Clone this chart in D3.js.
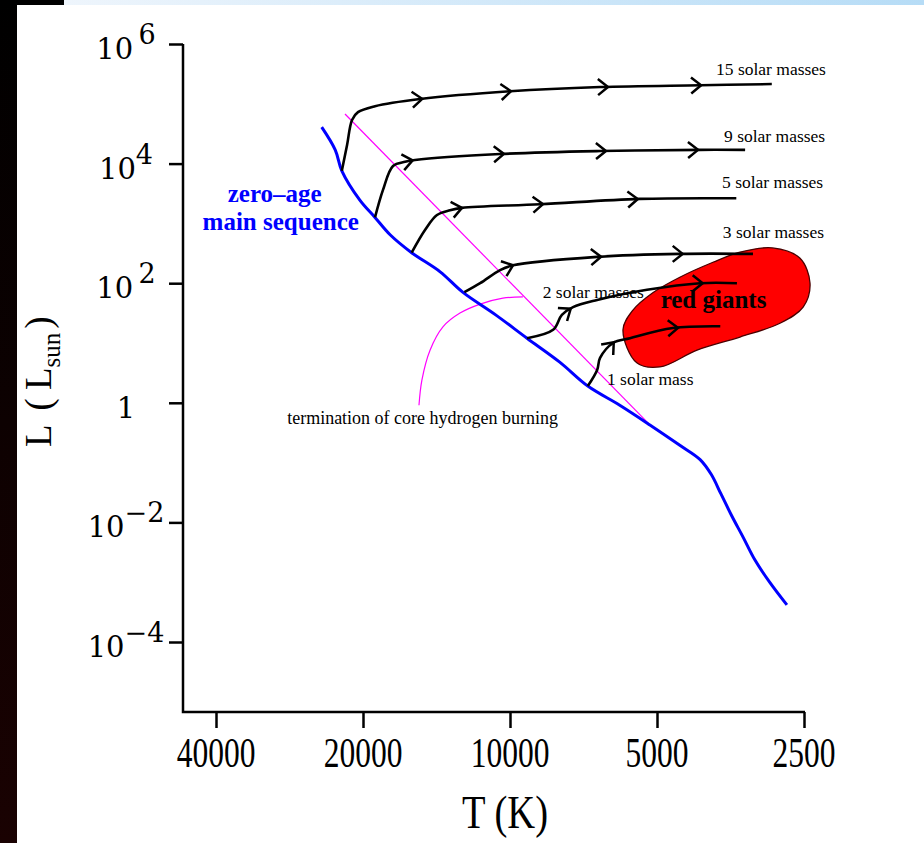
<!DOCTYPE html>
<html>
<head>
<meta charset="utf-8">
<script src="https://cdn.jsdelivr.net/npm/d3@7"></script>
<style>
  body { margin: 0; background: #fff; }
  svg { display: block; }
</style>
</head>
<body>
<div id="here"></div>
<script>
var w = 924, h = 843;

// axis ticks
var tempTicks = [40000, 20000, 10000, 5000, 2500];
var lumExps = [6, 4, 2, 0, -2, -4];

// zero-age main sequence (T in K, log L in L_sun)
var msT = [24300, 22800, 22100, 20300, 18900, 17600, 15900, 13900, 12500, 10700, 9230, 7910, 6930, 5960, 5170, 4490, 4080, 3870, 3700, 3520, 3330, 3150, 2940, 2710];
var msLogL = [4.61, 4.23, 3.88, 3.39, 3.10, 2.81, 2.51, 2.19, 1.85, 1.47, 1.08, 0.68, 0.28, -0.04, -0.37, -0.71, -0.95, -1.20, -1.52, -1.88, -2.25, -2.63, -3.00, -3.38];

// evolutionary tracks
var track15T = [22100, 21560, 21060, 20480, 18900, 15280, 10000, 6540, 4080, 2910];
var track15L = [3.88, 4.31, 4.73, 4.86, 4.96, 5.08, 5.21, 5.28, 5.31, 5.33];
var track9T = [18900, 18200, 17360, 16400, 15650, 10480, 6540, 4080, 3300];
var track9L = [3.10, 3.56, 3.96, 4.03, 4.06, 4.16, 4.21, 4.23, 4.23];
var track5T = [15900, 14930, 14110, 13270, 12540, 8680, 5420, 3440];
var track5L = [2.51, 2.89, 3.14, 3.22, 3.26, 3.32, 3.41, 3.42];
var track3T = [12400, 11510, 10480, 9860, 6630, 4490, 3180];
var track3L = [1.85, 2.00, 2.22, 2.30, 2.44, 2.49, 2.49];
var track2T = [9230, 8160, 7830, 7430, 6630, 5240, 4080, 3430];
var track2L = [1.08, 1.22, 1.47, 1.60, 1.72, 1.89, 2.00, 2.00];
var track1T = [6930, 6630, 6540, 6150, 5680, 4640, 3710];
var track1L = [0.28, 0.55, 0.75, 1.00, 1.08, 1.25, 1.28];

// arrow positions along each track (T)
var arrows15 = [15200, 10000, 6330, 4080];
var arrows9 = [15900, 10340, 6390, 4140];
var arrows5 = [12600, 8600, 5500];
var arrows3 = [9900, 6540, 4450];
var arrows2 = [7540, 4050];
var arrows1 = [6150, 4550];

var massNames = ["15 solar masses", "9 solar masses", "5 solar masses", "3 solar masses", "2 solar masses", "1 solar mass"];
var massLabelT = [3785, 3645, 3680, 3665, 8570, 6330];
var massLabelL = [5.48, 4.36, 3.59, 2.76, 1.75, 0.30];

// end of core hydrogen burning line and pointer arc
var termT = [21770, 5170];
var termL = [4.83, -0.37];
var arcT = [15360, 15150, 14580, 13720, 12660, 11510, 10340, 9410];
var arcL = [-0.04, 0.38, 0.88, 1.27, 1.50, 1.65, 1.75, 1.77];

// red giant region outline
var giantT = [5870, 5600, 5100, 4490, 3840, 3380, 2900, 2550, 2430, 2510, 2800, 3380, 4140, 4930, 5500];
var giantL = [1.22, 1.55, 1.84, 2.10, 2.35, 2.52, 2.59, 2.42, 2.00, 1.60, 1.33, 1.10, 0.88, 0.60, 0.67];

var x = d3.scaleLog().base(2).domain([40000, 2500]).range([216, 804]);
var y = d3.scaleLog().domain([1e-4, 1e6]).range([642, 44]);

var svg = d3.select('#here').append("svg")
  .attr("width", w)
  .attr("height", h);

// page decoration (slide frame)
var defs = svg.append("defs");
var gr = defs.append("linearGradient").attr("id", "topband");
gr.append("stop").attr("offset", "0%").attr("stop-color", "#eef5fc");
gr.append("stop").attr("offset", "100%").attr("stop-color", "#b6dcf6");
var gl = defs.append("linearGradient").attr("id", "leftband").attr("x1", 0).attr("x2", 0).attr("y1", 0).attr("y2", 1);
gl.append("stop").attr("offset", "0%").attr("stop-color", "#000");
gl.append("stop").attr("offset", "100%").attr("stop-color", "#1a0202");

svg.append("rect").attr("x", 64).attr("y", 0).attr("width", w - 64).attr("height", 5).attr("fill", "url(#topband)");
svg.append("rect").attr("x", 0).attr("y", 0).attr("width", 64).attr("height", 5).attr("fill", "#000");
svg.append("rect").attr("x", 0).attr("y", 0).attr("width", 17).attr("height", h).attr("fill", "url(#leftband)");

function pts(ts, ls) {
  return ts.map(function(t, i) { return [x(t), y(Math.pow(10, ls[i]))]; });
}

// axes
var yAxis = d3.axisLeft(y).tickValues(lumExps.map(function(e) { return Math.pow(10, e); }))
  .tickSize(14).tickSizeOuter(0).tickFormat("");
var gy = svg.append("g").attr("transform", "translate(183,0)").call(yAxis);
gy.select(".domain").remove();
gy.selectAll(".tick line").attr("stroke", "#000").attr("stroke-width", 2.5);

var xAxis = d3.axisBottom(x).tickValues(tempTicks).tickSize(16).tickSizeOuter(0).tickFormat("");
var gx = svg.append("g").attr("transform", "translate(0,712)").call(xAxis);
gx.select(".domain").remove();
gx.selectAll(".tick line").attr("stroke", "#000").attr("stroke-width", 2.5);

svg.append("path")
  .attr("d", "M183,44V712H805")
  .attr("fill", "none").attr("stroke", "#000").attr("stroke-width", 2.5);

// y tick labels
lumExps.forEach(function(e) {
  var t = svg.append("text")
    .attr("x", 126).attr("y", y(Math.pow(10, e)) + 15)
    .attr("text-anchor", "middle")
    .style("font-family", "DejaVu Serif")
    .style("font-size", "29px")
    .attr("fill", "#000");
  if (e === 0) { t.text("1"); return; }
  t.append("tspan").text("10");
  t.append("tspan").attr("dy", -15).style("font-size", "27px")
    .text(e < 0 ? "\u2212" + (-e) : (e > 4 || e < 4 ? "\u2009" : "") + e);
});

// x tick labels (condensed serif)
tempTicks.forEach(function(v) {
  var t = svg.append("text")
    .attr("x", x(v)).attr("y", 767)
    .attr("text-anchor", "middle")
    .style("font-family", "Liberation Serif")
    .style("font-size", "42px")
    .attr("fill", "#000")
    .text(v);
  var len = t.node().getComputedTextLength();
  t.attr("textLength", len * 0.75).attr("lengthAdjust", "spacingAndGlyphs");
});

// axis titles
svg.append("text")
  .attr("x", 505).attr("y", 828)
  .attr("text-anchor", "middle")
  .style("font-family", "Liberation Serif")
  .style("font-size", "46px")
  .attr("textLength", 86).attr("lengthAdjust", "spacingAndGlyphs")
  .text("T (K)");

var yl = svg.append("text")
  .attr("transform", "translate(51,447) rotate(-90)")
  .style("font-family", "Liberation Serif")
  .style("font-size", "37px");
yl.append("tspan").text("L");
yl.append("tspan").attr("dx", 14).text("(");
yl.append("tspan").attr("dx", 8).text("L");
yl.append("tspan").attr("dy", 9).style("font-size", "25px").text("sun");
yl.append("tspan").attr("dy", -9).attr("dx", 4).text(")");

var line = d3.line().curve(d3.curveCatmullRom.alpha(0.5));
var linear = d3.line();

// hydrogen burning line
svg.append("path")
  .attr("d", linear(pts(termT, termL)))
  .attr("fill", "none").attr("stroke", "#ff00ff").attr("stroke-width", 1.2);
svg.append("path")
  .attr("d", line(pts(arcT, arcL)))
  .attr("fill", "none").attr("stroke", "#ff00ff").attr("stroke-width", 1.2);

// main sequence
svg.append("path")
  .attr("d", line(pts(msT, msLogL)))
  .attr("fill", "none").attr("stroke", "#0000ff").attr("stroke-width", 3)
  .attr("stroke-linejoin", "round");

// mass labels
massNames.forEach(function(name, i) {
  svg.append("text")
    .attr("x", x(massLabelT[i])).attr("y", y(Math.pow(10, massLabelL[i])))
    .style("font-family", "Liberation Serif")
    .style("font-size", "17.5px")
    .attr("fill", "#000")
    .text(name);
});

// red giant region
svg.append("path")
  .attr("d", d3.line().curve(d3.curveCatmullRomClosed.alpha(0.5))(pts(giantT, giantL)))
  .attr("fill", "#ff0000").attr("stroke", "#4a0000").attr("stroke-width", 1.3);

// tracks and arrows
var tracks = [
  [track15T, track15L, arrows15],
  [track9T, track9L, arrows9],
  [track5T, track5L, arrows5],
  [track3T, track3L, arrows3],
  [track2T, track2L, arrows2],
  [track1T, track1L, arrows1]
];

function arrowAt(p, t) {
  var px = x(t);
  for (var i = 1; i < p.length; i++) {
    var a = p[i - 1], b = p[i];
    if (px >= a[0] && px <= b[0]) {
      var f = (px - a[0]) / (b[0] - a[0]);
      return { x: px, y: a[1] + f * (b[1] - a[1]), ang: Math.atan2(b[1] - a[1], b[0] - a[0]) * 180 / Math.PI };
    }
  }
  return null;
}

tracks.forEach(function(tr) {
  var p = pts(tr[0], tr[1]);
  svg.append("path")
    .attr("d", line(p))
    .attr("fill", "none").attr("stroke", "#000").attr("stroke-width", 2.6)
    .attr("stroke-linejoin", "round");
  tr[2].forEach(function(t) {
    var a = arrowAt(p, t);
    if (!a) return;
    svg.append("path")
      .attr("d", "M-9,-8L1,0L-9,8")
      .attr("transform", "translate(" + a.x + "," + a.y + ") rotate(" + a.ang + ")")
      .attr("fill", "none").attr("stroke", "#000").attr("stroke-width", 2.5);
  });
});

// annotations
svg.append("text")
  .attr("x", x(3830)).attr("y", y(Math.pow(10, 1.59)))
  .attr("text-anchor", "middle")
  .style("font-family", "Liberation Serif")
  .style("font-size", "25px")
  .style("font-weight", "bold")
  .attr("fill", "#000")
  .text("red giants");

var zams = svg.append("text")
  .attr("x", x(29900)).attr("y", y(Math.pow(10, 3.36)))
  .attr("text-anchor", "middle")
  .style("font-family", "Liberation Serif")
  .style("font-size", "25px")
  .style("font-weight", "bold")
  .attr("fill", "#0000ff");
zams.append("tspan").attr("x", x(29900) - 3).text("zero\u2013age");
zams.append("tspan").attr("x", x(29900) + 3).attr("dy", 28).text("main sequence");

svg.append("text")
  .attr("x", x(28600)).attr("y", y(Math.pow(10, -0.35)))
  .style("font-family", "Liberation Serif")
  .style("font-size", "18px")
  .attr("fill", "#000")
  .text("termination of core hydrogen burning");
</script>
</body>
</html>
